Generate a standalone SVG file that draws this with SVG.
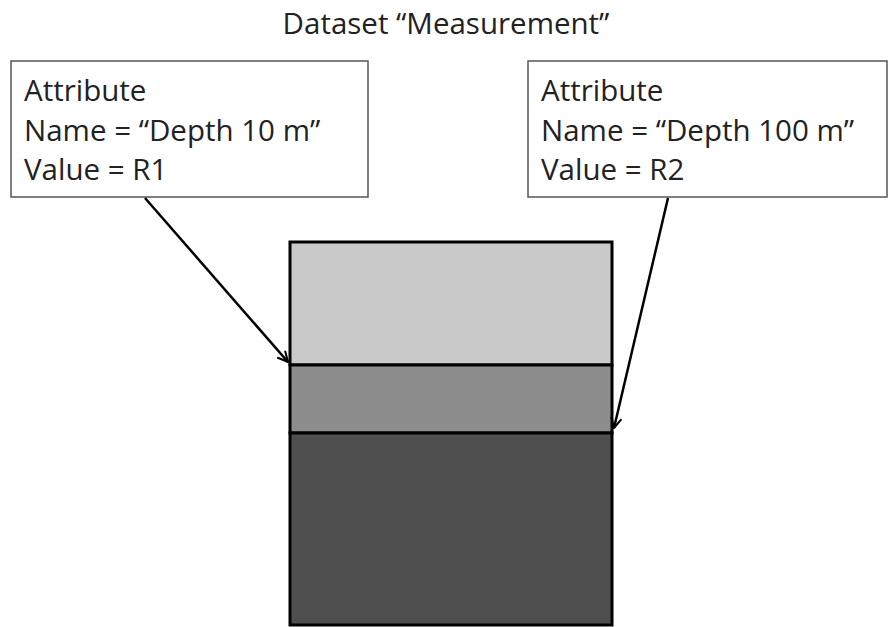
<svg xmlns="http://www.w3.org/2000/svg" width="889" height="627" viewBox="0 0 889 627">
<style>
.t{font-family:"Open Sans","Liberation Sans",sans-serif;font-size:29.5px;fill:#222}
.box{fill:#fff;stroke:#555;stroke-width:1.5}
.layer{stroke:#000;stroke-width:3}
.conn{stroke:#000;stroke-width:2.5;fill:none;marker-end:url(#arr)}
</style>
<defs>
<marker id="arr" viewBox="0 0 12 12" refX="11" refY="6" markerWidth="5" markerHeight="5" orient="auto" markerUnits="strokeWidth">
<polyline points="1,1 11,6 1,11" fill="none" stroke="#000" stroke-width="2"/>
</marker>
</defs>
<rect width="889" height="627" fill="#fff"/>
<text class="t" x="446" y="34" text-anchor="middle">Dataset “Measurement”</text>
<g id="column">
<rect class="layer" x="290" y="242" width="322" height="123" fill="#c9c9c9"/>
<rect class="layer" x="290" y="365" width="322" height="68" fill="#8d8d8d"/>
<rect class="layer" x="290" y="433" width="322" height="192" fill="#4e4e4e"/>
</g>
<g id="attr1">
<rect class="box" x="11" y="61" width="357" height="136"/>
<text class="t" x="24" y="101">Attribute</text>
<text class="t" x="24" y="141">Name = “Depth 10 m”</text>
<text class="t" x="24" y="180">Value = R1</text>
</g>
<g id="attr2">
<rect class="box" x="528" y="61" width="359" height="136"/>
<text class="t" x="541" y="101">Attribute</text>
<text class="t" x="541" y="141">Name = “Depth 100 m”</text>
<text class="t" x="541" y="180">Value = R2</text>
</g>
<g id="connectors">
<line class="conn" x1="145" y1="198" x2="288" y2="362"/>
<line class="conn" x1="668" y1="198" x2="614" y2="428"/>
</g>
</svg>
